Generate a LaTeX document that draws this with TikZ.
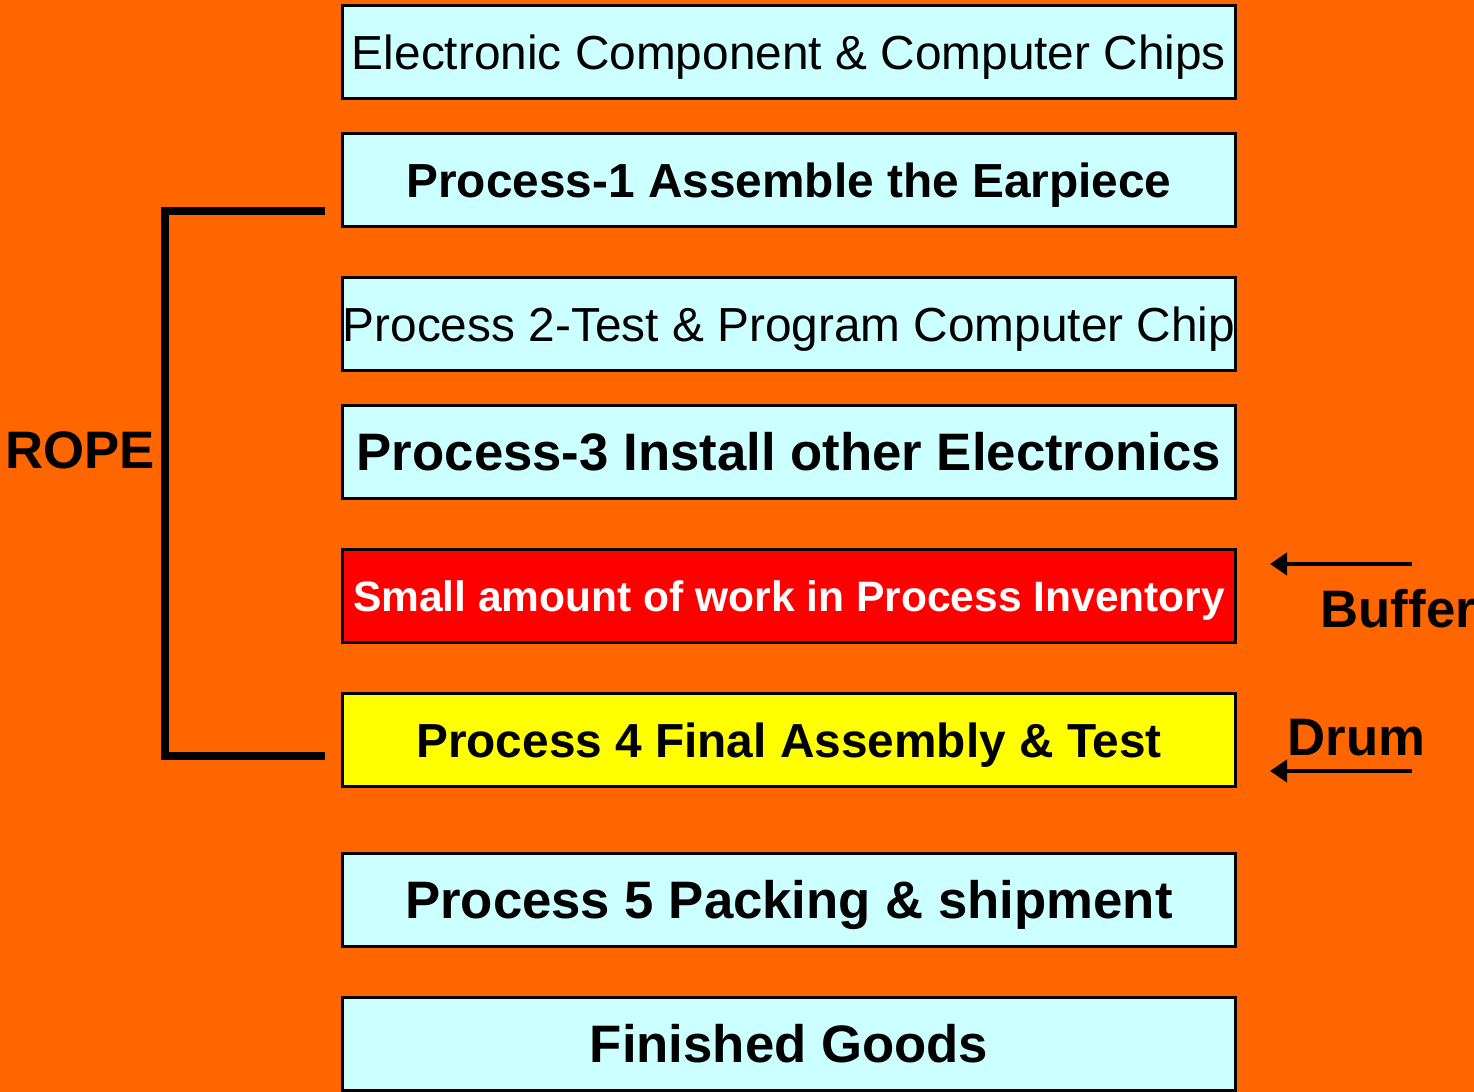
\documentclass[tikz,border=0pt]{standalone}
\usepackage{fontspec}
\setmainfont{Liberation Sans}
\usetikzlibrary{arrows.meta}
\definecolor{bgorange}{HTML}{FF6600}
\definecolor{boxcyan}{HTML}{CCFFFF}
\definecolor{wipred}{HTML}{FF0000}
\definecolor{drumyellow}{HTML}{FFFF00}

\begin{document}
\begin{tikzpicture}[
    stage/.style={rectangle, draw=black, line width=0.8pt, fill=boxcyan, minimum width=8.93cm, minimum height=0.93cm, inner sep=0pt, text depth=0pt},
    mid/.style={font=\fontsize{13.6}{16}\selectfont, text height=9.7pt},
    midbf/.style={font=\fontsize{13.6}{16}\selectfont\bfseries, text height=9.7pt},
    big/.style={font=\fontsize{15}{18}\selectfont\bfseries, text height=10.7pt},
    tag/.style={inner sep=0pt, font=\fontsize{15}{18}\selectfont\bfseries},
    rope/.style={line width=2pt},
    pointer/.style={line width=1.4pt, -{Triangle[length=0.17cm, width=0.22cm]}}]
    \fill[bgorange] (0,0) rectangle (14.74,-10.92);
    \useasboundingbox (0,0) rectangle (14.74,-10.92);
    \node[stage, mid] (chips) at (7.89,-0.52) {Electronic Component \& Computer Chips};
    \node[stage, midbf] (p1) at (7.89,-1.80) {Process-1 Assemble the Earpiece};
    \node[stage, mid] (p2) at (7.89,-3.24) {Process 2-Test \& Program Computer Chip};
    \node[stage, big] (p3) at (7.89,-4.52) {Process-3 Install other Electronics};
    \node[stage, fill=wipred, text=white, font=\fontsize{12.1}{14}\selectfont\bfseries, text height=8.7pt] (wip) at (7.89,-5.96) {Small amount of work in Process Inventory};
    \node[stage, fill=drumyellow, midbf] (p4) at (7.89,-7.40) {Process 4 Final Assembly \& Test};
    \node[stage, big] (p5) at (7.89,-9.00) {Process 5 Packing \& shipment};
    \node[stage, big] (goods) at (7.89,-10.44) {Finished Goods};
    \node[tag] (ropelbl) at (0.80,-4.50) {ROPE};
    \node[tag, anchor=west] (buflbl) at (13.20,-6.09) {Buffer};
    \node[tag, anchor=west] (drumlbl) at (12.87,-7.38) {Drum};
    \coordinate (r1) at (3.25,-2.11);
    \coordinate (r2) at (1.65,-2.11);
    \coordinate (r3) at (1.65,-7.56);
    \coordinate (r4) at (3.25,-7.56);
        \draw[rope] (r1) -- (r2) -- (r3) -- (r4);
    \coordinate (b1) at (14.12,-5.64);
    \coordinate (b2) at (12.70,-5.64);
    \coordinate (d1) at (14.12,-7.71);
    \coordinate (d2) at (12.70,-7.71);
        \draw[pointer] (b1) -- (b2);
        \draw[pointer] (d1) -- (d2);
\end{tikzpicture}
\end{document}
